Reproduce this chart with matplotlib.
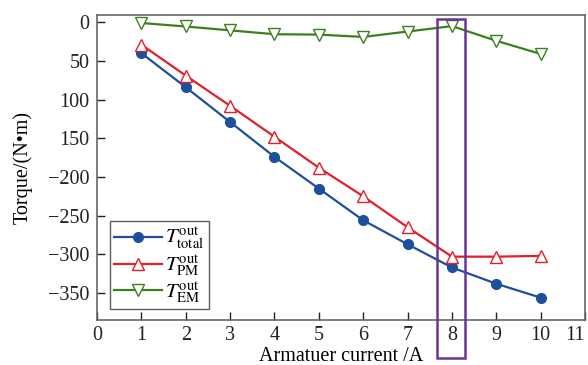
import matplotlib
matplotlib.use("Agg")
import matplotlib.pyplot as plt
from matplotlib.patches import Rectangle
import matplotlib.transforms as mtransforms

plt.rcParams["font.family"] = ["Liberation Serif", "DejaVu Serif"]
plt.rcParams["mathtext.fontset"] = "stix"

# armature current (A) and output torque components (N*m)
current = [1, 2, 3, 4, 5, 6, 7, 8, 9, 10]
t_total = [-40, -84, -129, -174, -215, -256, -287, -317, -338, -356]
t_pm = [-29, -69, -108, -148, -188, -225, -265, -303, -303, -302]
t_em = [-1, -5.5, -10.5, -15.5, -16, -19, -12, -5, -24, -41]

yticks = [0, -50, -100, -150, -200, -250, -300, -350]
ytick_labels = ["0", "50", "100", "150", "\u2212200", "\u2212250", "\u2212300", "\u2212350"]

fig = plt.figure(figsize=(5.88, 3.65), dpi=100)
ax = fig.add_axes([0.165, 0.123, 0.83, 0.836])

ax.plot(current, t_total, color="#1d4f9c", lw=1.6, marker="o", ms=7,
        mfc="#1d4f9c", mec="#1d4f9c", label=r"$T_{\mathrm{total}}^{\mathrm{out}}$")
ax.plot(current, t_pm, color="#e0202a", lw=1.6, marker="^", ms=8,
        mfc="white", mec="#e0202a", label=r"$T_{\mathrm{PM}}^{\mathrm{out}}$")
ax.plot(current, t_em, color="#3d7f1f", lw=1.6, marker="v", ms=8,
        mfc="white", mec="#3d7f1f", label=r"$T_{\mathrm{EM}}^{\mathrm{out}}$")

ax.set_xlim(0, 11)
ax.set_ylim(-385, 9.4)
ax.set_xticks(range(0, 12))
ax.set_yticks(yticks)
ax.set_yticklabels(ytick_labels)
ax.tick_params(direction="in", length=6, width=1, labelsize=14.5, colors="#222222",
               top=False, right=False)
ax.tick_params(axis="x", pad=4.5)
ax.tick_params(axis="y", pad=5.5)
ax.get_xticklabels()[-1].set_horizontalalignment("right")
for s in ax.spines.values():
    s.set_color("#666666")
    s.set_linewidth(1.2)

ax.set_xlabel("Armatuer current /A", fontsize=14.5, labelpad=1)
ax.set_ylabel("Torque/(N\u2022m)", fontsize=14.5, labelpad=11)

# highlight box around the 8 A operating point
trans = mtransforms.blended_transform_factory(ax.transData, ax.transAxes)
box = Rectangle((7.66, -0.125), 0.64, 1.112, transform=trans, fill=False,
                edgecolor="#6a3596", lw=1.8, clip_on=False, zorder=5)
ax.add_patch(box)

leg = ax.legend(loc="lower left", bbox_to_anchor=(0.027, 0.036), fontsize=15,
                frameon=True, fancybox=False, handlelength=2.3, handletextpad=0.15,
                borderpad=0.2, labelspacing=0.05, borderaxespad=0)
leg.get_frame().set_edgecolor("#333333")
leg.get_frame().set_linewidth(1.0)

fig.savefig("out.png", dpi=100)
